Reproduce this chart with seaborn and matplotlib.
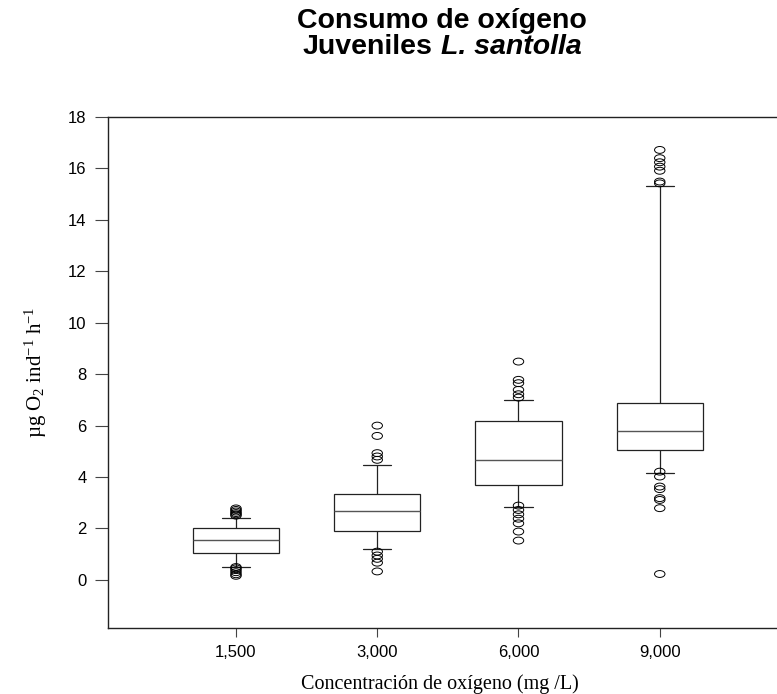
import numpy as np
import pandas as pd
import matplotlib
matplotlib.use('Agg')
import matplotlib.pyplot as plt
import seaborn as sns
from matplotlib.path import Path
from matplotlib.transforms import Affine2D

# Oxygen concentration groups (x categories)
concentrations = ['1,500', '3,000', '6,000', '9,000']

# Five-number summary per group
whisker_low = [0.52, 1.21, 2.84, 4.15]
quartile_1 = [1.04, 1.89, 3.69, 5.05]
median = [1.54, 2.69, 4.67, 5.79]
quartile_3 = [2.01, 3.33, 6.19, 6.89]
whisker_high = [2.41, 4.46, 6.99, 15.32]

# Outlying points per group
outliers_1500 = [2.78, 2.72, 2.66, 2.60, 2.55, 2.50,
                 0.50, 0.45, 0.38, 0.30, 0.22, 0.16]
outliers_3000 = [6.00, 5.60, 4.93, 4.80, 4.67,
                 1.10, 0.95, 0.82, 0.67, 0.33]
outliers_6000 = [8.49, 7.78, 7.65, 7.39, 7.22, 7.09,
                 2.89, 2.72, 2.55, 2.38, 2.20, 1.88, 1.53]
outliers_9000 = [16.72, 16.40, 16.24, 16.07, 15.91, 15.49, 15.42,
                 4.21, 4.02, 3.63, 3.53, 3.18, 3.11, 2.79, 0.23]

# Box table: five values per group reproduce the summary exactly
summary = np.column_stack([whisker_low, quartile_1, median, quartile_3, whisker_high])
boxes = pd.DataFrame({
    'conc': np.repeat(concentrations, summary.shape[1]),
    'value': summary.ravel(),
})
outlier_lists = [outliers_1500, outliers_3000, outliers_6000, outliers_9000]
outliers = pd.DataFrame({
    'conc': np.concatenate([[c] * len(o) for c, o in zip(concentrations, outlier_lists)]),
    'value': np.concatenate(outlier_lists),
})

sns.set_style('ticks')
plt.rcParams['font.family'] = ['Liberation Sans', 'DejaVu Sans']
plt.rcParams['text.color'] = 'black'
plt.rcParams['axes.labelcolor'] = 'black'
plt.rcParams['mathtext.fontset'] = 'custom'
plt.rcParams['mathtext.rm'] = 'Liberation Serif'
plt.rcParams['mathtext.it'] = 'Liberation Serif:italic'
plt.rcParams['mathtext.bf'] = 'Liberation Serif:bold'

fig = plt.figure(figsize=(7.77, 6.94), dpi=100)
ax = fig.add_axes([0.139, 0.0951, 0.861, 0.7363])

line_col = '#222222'
sns.boxplot(data=boxes, x='conc', y='value', order=concentrations,
            whis=(0, 100), showfliers=False, width=0.61,
            color='white', linecolor=line_col, linewidth=0.9,
            medianprops={'color': '#555555', 'linewidth': 1.0},
            capwidths=0.2, ax=ax)

# slightly flattened ring marker, as in the original
ring = Path.unit_circle().transformed(Affine2D().scale(1.0, 0.66))
sns.stripplot(data=outliers, x='conc', y='value', order=concentrations,
              jitter=False, marker=ring, size=7.5, facecolor='none',
              edgecolor='black', linewidth=0.7, ax=ax)

ax.set_xlim(-0.906, 3.83)
ax.set_ylim(-1.87, 18)
ax.set_yticks(np.arange(0, 19, 2))

for side in ['left', 'bottom', 'top']:
    ax.spines[side].set_color(line_col)
    ax.spines[side].set_linewidth(1.0)
ax.spines['right'].set_visible(False)

ax.tick_params(axis='y', direction='out', length=9.5, width=0.8,
               color='#444444', pad=6, labelsize=12, labelcolor='black')
ax.tick_params(axis='x', direction='out', length=6.5, width=0.8,
               color='#444444', pad=6, labelsize=12, labelcolor='black')

ax.set_xlabel('Concentración de oxígeno (mg /L)', family='Liberation Serif',
              fontsize=14.5, va='top')
ax.xaxis.set_label_coords(0.496, -0.090)
ax.set_ylabel('µg O$_2$ ind$^{-1}$ h$^{-1}$', family='Liberation Serif',
              fontsize=15, va='center')
ax.yaxis.set_label_coords(-0.108, 0.50)

# Title: two centred lines, second line partly in italic
title_size = 20.5
fig.text(442 / 777, 1 - 21 / 694, 'Consumo de oxígeno', ha='center', va='center',
         fontsize=title_size, fontweight='bold')
t_a = fig.text(0, 1 - 47 / 694, 'Juveniles', ha='left', va='center',
               fontsize=title_size, fontweight='bold')
t_b = fig.text(0, 1 - 47 / 694, 'L. santolla', ha='left', va='center',
               fontsize=title_size, fontweight='bold', style='italic')
fig.canvas.draw()
renderer = fig.canvas.get_renderer()
w_a = t_a.get_window_extent(renderer).width
w_b = t_b.get_window_extent(renderer).width
gap = 0.28 * title_size * fig.dpi / 72
start = 442 - (w_a + gap + w_b) / 2
t_a.set_x(start / 777)
t_b.set_x((start + w_a + gap) / 777)

fig.savefig('out.png', dpi=100)
